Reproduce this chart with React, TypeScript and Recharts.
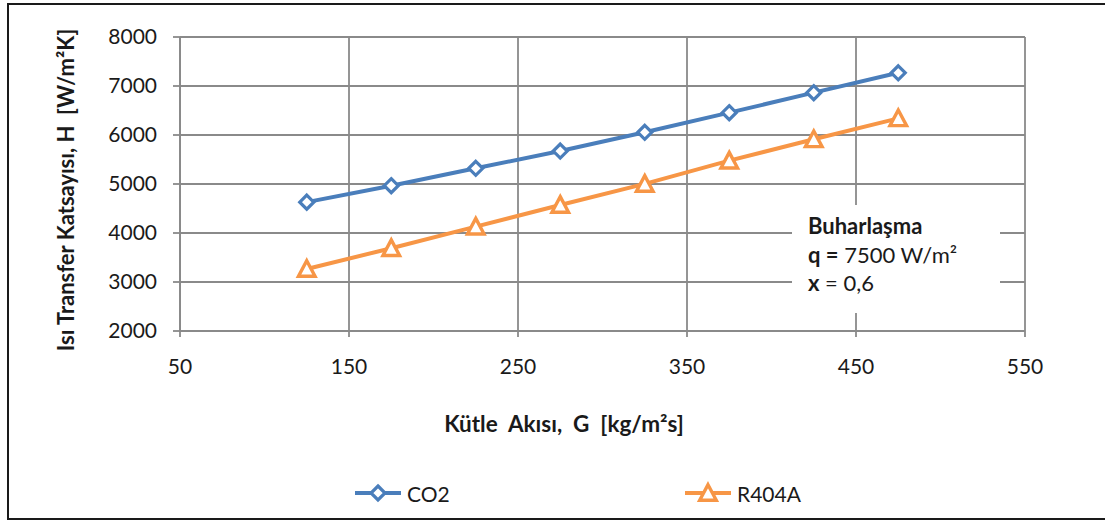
import React from "react";
import { LineChart, Line, XAxis, YAxis, CartesianGrid, Legend } from "recharts";

// Mass flux G [kg/m²s]
const G_VALUES = [125, 175, 225, 275, 325, 375, 425, 475];
// Heat transfer coefficient H [W/m²K]
const CO2_VALUES = [4630, 4965, 5320, 5673, 6055, 6456, 6864, 7270];
const R404A_VALUES = [3265, 3690, 4130, 4572, 5002, 5477, 5912, 6340];

const X_TICKS = [50, 150, 250, 350, 450, 550];
const Y_TICKS = [2000, 3000, 4000, 5000, 6000, 7000, 8000];

const SERIES = [
  { key: "CO2", name: "CO2", color: "#4A7EBB", marker: "diamond" },
  { key: "R404A", name: "R404A", color: "#F79646", marker: "triangle" },
];

const data = G_VALUES.map((g, i) => ({
  G: g,
  CO2: CO2_VALUES[i],
  R404A: R404A_VALUES[i],
}));

const FONT = "Lato, 'Open Sans', sans-serif";
const GRID = "#8A8A8A";
const TEXT = "#1a1a1a";

function markerShape(kind: string, cx: number, cy: number, color: string, key?: string) {
  if (kind === "diamond") {
    const r = 7;
    return (
      <polygon
        key={key}
        points={`${cx},${cy - r} ${cx + r},${cy} ${cx},${cy + r} ${cx - r},${cy}`}
        fill="#fff"
        stroke={color}
        strokeWidth={3.2}
      />
    );
  }
  const h = 8.3;
  return (
    <polygon
      key={key}
      points={`${cx},${cy - h} ${cx + h},${cy + h - 1} ${cx - h},${cy + h - 1}`}
      fill="#fff"
      stroke={color}
      strokeWidth={3.4}
      strokeLinejoin="miter"
    />
  );
}

const makeDot = (kind: string, color: string) => (props: any) => {
  const { cx, cy, index } = props;
  if (cx == null || cy == null) return <g key={index} />;
  return markerShape(kind, cx, cy, color, `m-${index}`);
};

const LegendContent = () => {
  const pos = [355, 685];
  return (
    <div style={{ position: "relative", width: 1105, height: 30 }}>
      {SERIES.map((s, i) => (
        <div
          key={s.key}
          style={{
            position: "absolute",
            left: pos[i],
            top: 0,
            height: 30,
            display: "flex",
            alignItems: "center",
            fontFamily: FONT,
            fontSize: 21,
            color: TEXT,
          }}
        >
          <svg width={46} height={24} style={{ marginRight: 6 }}>
            <line x1={0} y1={12} x2={46} y2={12} stroke={s.color} strokeWidth={4} />
            {markerShape(s.marker, 23, 12, s.color)}
          </svg>
          <span>{s.name}</span>
        </div>
      ))}
    </div>
  );
};

const YTitle = (props: any) => {
  const vb = props.viewBox || {};
  const cx = 65;
  const cy = (vb.y ?? 37) + (vb.height ?? 294) / 2 + 6;
  return (
    <text
      x={cx}
      y={cy}
      transform={`rotate(-90, ${cx}, ${cy})`}
      textAnchor="middle"
      dominantBaseline="central"
      fontFamily={FONT}
      fontWeight={700}
      fontSize={22}
      fill={TEXT}
      style={{ whiteSpace: "pre" }}
    >
      {"Isı Transfer Katsayısı, H  [W/m²K]"}
    </text>
  );
};

const XTitle = () => (
  <text
    x={564}
    y={432}
    textAnchor="middle"
    fontFamily={FONT}
    fontWeight={700}
    fontSize={22.5}
    fill={TEXT}
    style={{ whiteSpace: "pre" }}
  >
    {"Kütle  Akısı,  G  [kg/m²s]"}
  </text>
);

export default function App() {
  return (
    <div
      style={{
        position: "absolute",
        left: 0,
        top: 0,
        width: 1105,
        height: 522,
        background: "#fff",
        overflow: "hidden",
      }}
    >
      {/* outer frame */}
      <div
        style={{
          position: "absolute",
          left: 7,
          top: 3,
          width: 1105,
          height: 517,
          borderLeft: "2px solid #1a1a1a",
          borderTop: "2px solid #1a1a1a",
          borderBottom: "2px solid #1a1a1a",
          boxSizing: "border-box",
        }}
      />
      <div style={{ position: "absolute", left: 0, top: 0 }}>
        <LineChart
          width={1105}
          height={522}
          data={data}
          margin={{ top: 37, right: 80, bottom: 161, left: 0 }}
        >
          <CartesianGrid stroke={GRID} strokeWidth={1.8} />
          <XAxis
            dataKey="G"
            type="number"
            domain={[50, 550]}
            ticks={X_TICKS}
            interval={0}
            height={30}
            stroke={GRID}
            strokeWidth={1.8}
            tickSize={6}
            tickMargin={22}
            tick={{ fill: TEXT, fontSize: 21, fontFamily: FONT }}
            label={<XTitle />}
          />
          <YAxis
            type="number"
            domain={[2000, 8000]}
            ticks={Y_TICKS}
            interval={0}
            width={180}
            stroke={GRID}
            strokeWidth={1.8}
            tickSize={7}
            tickMargin={16}
            tick={{ fill: TEXT, fontSize: 21, fontFamily: FONT }}
            label={<YTitle />}
          />
          <Legend
            layout="horizontal"
            verticalAlign="middle"
            align="center"
            wrapperStyle={{ position: "absolute", top: 478, left: 0, width: 1105 }}
            content={<LegendContent />}
          />
          {SERIES.map((s) => (
            <Line
              key={s.key}
              dataKey={s.key}
              name={s.name}
              stroke={s.color}
              strokeWidth={4}
              dot={makeDot(s.marker, s.color)}
              activeDot={false}
              isAnimationActive={false}
            />
          ))}
        </LineChart>
      </div>
      {/* annotation text box */}
      <div
        style={{
          position: "absolute",
          left: 792,
          top: 205,
          width: 208,
          height: 108,
          background: "#fff",
          boxSizing: "border-box",
          paddingTop: 7,
          paddingLeft: 16,
          fontFamily: FONT,
          fontSize: 22,
          lineHeight: "28.5px",
          color: TEXT,
        }}
      >
        <div style={{ fontWeight: 700 }}>Buharlaşma</div>
        <div>
          <b>q =</b> 7500 W/m²
        </div>
        <div>
          <b>x</b> = 0,6
        </div>
      </div>
    </div>
  );
}
